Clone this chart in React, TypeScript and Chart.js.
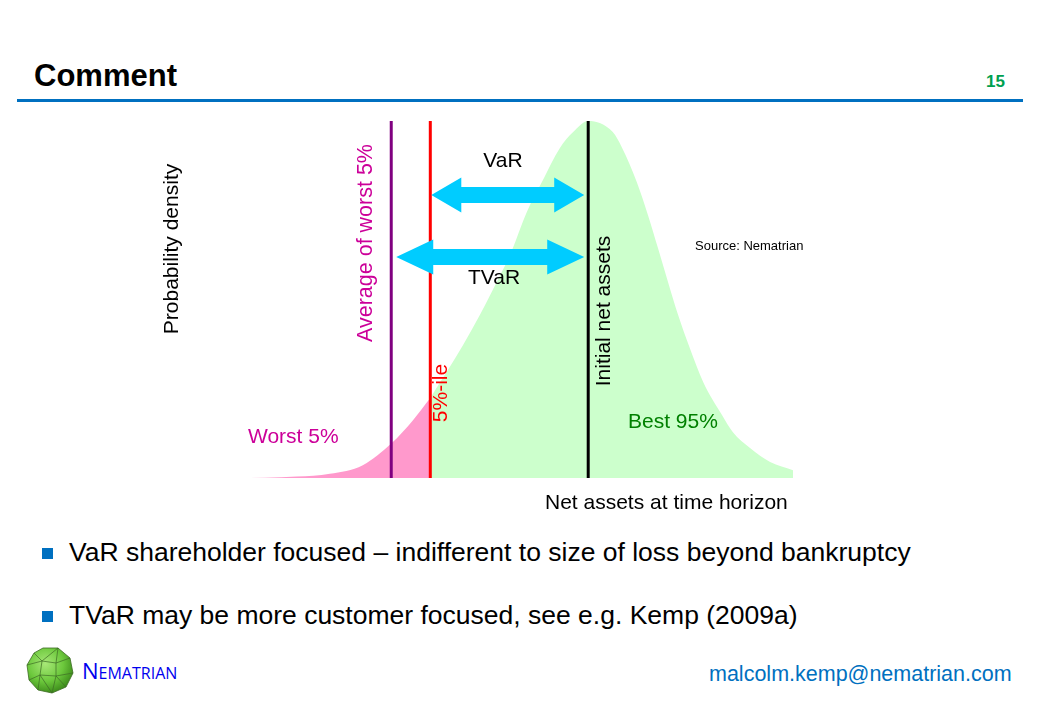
import React, { useEffect, useRef } from "react";
import { Chart, registerables } from "chart.js";

Chart.register(...registerables);

// ---- data (net assets on an abstract 0..100 scale, density normalised to peak = 1) ----
const netAssets = [0, 5.4, 11.1, 17.0, 22.9, 28.1, 31.9, 35, 40.9, 43.9, 47.8, 49.3, 52.3, 55.0, 58.2, 60.6, 63.3, 67.7, 69.4, 72.0, 74.0, 75.8, 77.6, 79.4, 81.5, 83.9, 87.3, 89.2, 92.3, 95.9, 100];
const density = [0, 0.001, 0.004, 0.012, 0.036, 0.098, 0.162, 0.224, 0.373, 0.457, 0.577, 0.625, 0.745, 0.829, 0.924, 0.969, 1.0, 0.969, 0.924, 0.829, 0.737, 0.644, 0.549, 0.457, 0.364, 0.269, 0.176, 0.129, 0.084, 0.045, 0.022];
const percentile5 = 35;
const avgWorst5 = 28.0;
const initialNetAssets = 63.3;
const xAxisLabel = "Net assets at time horizon";
const yAxisLabel = "Probability density";
const bullets = [
  "VaR shareholder focused \u2013 indifferent to size of loss beyond bankruptcy",
  "TVaR may be more customer focused, see e.g. Kemp (2009a)",
];

const FONT = "'Liberation Sans', Arial, Helvetica, sans-serif";
const CANVAS_LEFT = 130;
const CANVAS_TOP = 100;
const CANVAS_W = 700;
const CANVAS_H = 420;

function drawDoubleArrow(ctx: CanvasRenderingContext2D, x1: number, x2: number, yc: number, shaft: number, head: number, headLen: number, color: string) {
  const s = shaft / 2;
  const h = head / 2;
  ctx.beginPath();
  ctx.moveTo(x1, yc);
  ctx.lineTo(x1 + headLen, yc - h);
  ctx.lineTo(x1 + headLen, yc - s);
  ctx.lineTo(x2 - headLen, yc - s);
  ctx.lineTo(x2 - headLen, yc - h);
  ctx.lineTo(x2, yc);
  ctx.lineTo(x2 - headLen, yc + h);
  ctx.lineTo(x2 - headLen, yc + s);
  ctx.lineTo(x1 + headLen, yc + s);
  ctx.lineTo(x1 + headLen, yc + h);
  ctx.closePath();
  ctx.fillStyle = color;
  ctx.fill();
}

function text(ctx: CanvasRenderingContext2D, str: string, x: number, y: number, size: number, color: string, align: CanvasTextAlign = "left", rotate = false) {
  ctx.save();
  ctx.font = `${size}px ${FONT}`;
  ctx.fillStyle = color;
  ctx.textBaseline = "middle";
  ctx.textAlign = rotate ? "center" : align;
  ctx.translate(x, y);
  if (rotate) ctx.rotate(-Math.PI / 2);
  ctx.fillText(str, 0, 0);
  ctx.restore();
}

const annotations = {
  id: "annotations",
  afterDatasetsDraw(chart: any) {
    const { ctx } = chart;
    const xs = chart.scales.x;
    const ys = chart.scales.y;
    const px = (v: number) => xs.getPixelForValue(v);
    const py = (v: number) => ys.getPixelForValue(v);
    const ox = CANVAS_LEFT;
    const oy = CANVAS_TOP;

    drawDoubleArrow(ctx, px(percentile5) + 1, px(initialNetAssets) - 4, py(0.793), 16, 35, 30, "#00CCFF");
    drawDoubleArrow(ctx, px(avgWorst5) + 5, px(initialNetAssets) - 4, py(0.619), 16, 35, 37, "#00CCFF");

    text(ctx, "VaR", 503 - ox, 161 - oy, 21, "#000", "center");
    text(ctx, "TVaR", 494 - ox, 278 - oy, 21, "#000", "center");
    text(ctx, yAxisLabel, 172 - ox, 249 - oy, 21, "#000", "center", true);
    text(ctx, "Average of worst 5%", px(avgWorst5) - 25, 243 - oy, 21.5, "#CC0099", "center", true);
    text(ctx, "5%-ile", px(percentile5) + 11, 393 - oy, 21, "#FF0000", "center", true);
    text(ctx, "Initial net assets", px(initialNetAssets) + 16, 311 - oy, 21, "#000", "center", true);
    text(ctx, "Source: Nematrian", 695 - ox, 246 - oy, 13, "#000", "left");
    text(ctx, "Worst 5%", 248 - ox, 437 - oy, 21, "#CC0099", "left");
    text(ctx, "Best 95%", 628 - ox, 422 - oy, 21, "#008000", "left");
    text(ctx, xAxisLabel, 545 - ox, 503 - oy, 21, "#000", "left");
  },
};

function vline(x: number, color: string) {
  return {
    type: "line" as const,
    data: [{ x, y: 0 }, { x, y: 1 }],
    borderColor: color,
    borderWidth: 3,
    pointRadius: 0,
    fill: false,
    order: 1,
  };
}

function ChartCanvas() {
  const ref = useRef<HTMLCanvasElement>(null);
  useEffect(() => {
    if (!ref.current) return;
    const pts = netAssets.map((x, i) => ({ x, y: density[i] }));
    const worst = pts.filter((p) => p.x <= percentile5);
    const best = pts.filter((p) => p.x >= percentile5);
    const chart = new Chart(ref.current, {
      type: "line",
      data: {
        datasets: [
          vline(avgWorst5, "#800080"),
          vline(percentile5, "#FF0000"),
          vline(initialNetAssets, "#000000"),
          {
            data: worst,
            borderWidth: 0,
            borderColor: "rgba(0,0,0,0)",
            backgroundColor: "#FF99CC",
            fill: "origin",
            pointRadius: 0,
            cubicInterpolationMode: "monotone",
            order: 2,
          },
          {
            data: best,
            borderWidth: 0,
            borderColor: "rgba(0,0,0,0)",
            backgroundColor: "#CCFFCC",
            fill: "origin",
            pointRadius: 0,
            cubicInterpolationMode: "monotone",
            order: 3,
          },
        ],
      },
      options: {
        animation: false,
        responsive: false,
        maintainAspectRatio: false,
        layout: { padding: { left: 105, right: 37, top: 21, bottom: 42 } },
        plugins: { legend: { display: false }, tooltip: { enabled: false } },
        scales: {
          x: { type: "linear", min: 0, max: 100, display: false },
          y: { type: "linear", min: 0, max: 1, display: false },
        },
      },
      plugins: [annotations],
    } as any);
    return () => chart.destroy();
  }, []);
  return (
    <canvas
      ref={ref}
      width={CANVAS_W}
      height={CANVAS_H}
      style={{ position: "absolute", left: CANVAS_LEFT, top: CANVAS_TOP, width: CANVAS_W, height: CANVAS_H }}
    />
  );
}

function Logo() {
  return (
    <svg width="50" height="50" viewBox="0 0 50 50" style={{ position: "absolute", left: 25, top: 645 }}>
      <defs>
        <radialGradient id="lg" cx="40%" cy="35%" r="65%">
          <stop offset="0%" stopColor="#a8e878" />
          <stop offset="60%" stopColor="#6cc83c" />
          <stop offset="100%" stopColor="#3f8f1c" />
        </radialGradient>
      </defs>
      <polygon points="18,3 33,3 45,13 48,28 41,42 27,48 13,45 4,35 2,20 9,8" fill="url(#lg)" stroke="#3d6b25" strokeWidth="0.8" />
      <g stroke="#3d6b25" strokeWidth="0.7" fill="none">
        <polyline points="9,8 17,16 33,3" />
        <polyline points="17,16 31,18 45,13" />
        <polyline points="31,18 33,3" />
        <polyline points="2,20 17,16 15,30 4,35" />
        <polyline points="15,30 31,31 31,18" />
        <polyline points="31,31 48,28" />
        <polyline points="31,31 41,42" />
        <polyline points="15,30 27,48 31,31" />
        <polyline points="15,30 13,45" />
      </g>
    </svg>
  );
}

export default function App() {
  return (
    <div style={{ position: "absolute", left: 0, top: 0, width: 1040, height: 720, background: "#fff", fontFamily: FONT, overflow: "hidden" }}>
      <div style={{ position: "absolute", left: 34, top: 58, fontSize: 31, fontWeight: "bold", color: "#000", lineHeight: "36px" }}>Comment</div>
      <div style={{ position: "absolute", left: 986, top: 72, fontSize: 17, fontWeight: "bold", color: "#00A050", lineHeight: "20px" }}>15</div>
      <div style={{ position: "absolute", left: 17, top: 99, width: 1006, height: 3, background: "#0070C0" }} />
      <ChartCanvas />
      {bullets.map((b, i) => (
        <React.Fragment key={i}>
          <div style={{ position: "absolute", left: 42, top: 548 + i * 63, width: 11, height: 11, background: "#0070C0" }} />
          <div style={{ position: "absolute", left: 69, top: 536 + i * 63, fontSize: 26.5, lineHeight: "32px", color: "#000", whiteSpace: "nowrap" }}>{b}</div>
        </React.Fragment>
      ))}
      <Logo />
      <div style={{ position: "absolute", left: 82, top: 657, color: "#0000EE", fontFamily: "'Open Sans', 'Noto Sans', sans-serif", lineHeight: "26px", whiteSpace: "nowrap" }}>
        <span style={{ fontSize: 22 }}>N</span>
        <span style={{ fontSize: 16 }}>EMATRIAN</span>
      </div>
      <div style={{ position: "absolute", left: 709, top: 661, fontSize: 21.5, lineHeight: "26px", color: "#0070C0", whiteSpace: "nowrap" }}>malcolm.kemp@nematrian.com</div>
    </div>
  );
}
